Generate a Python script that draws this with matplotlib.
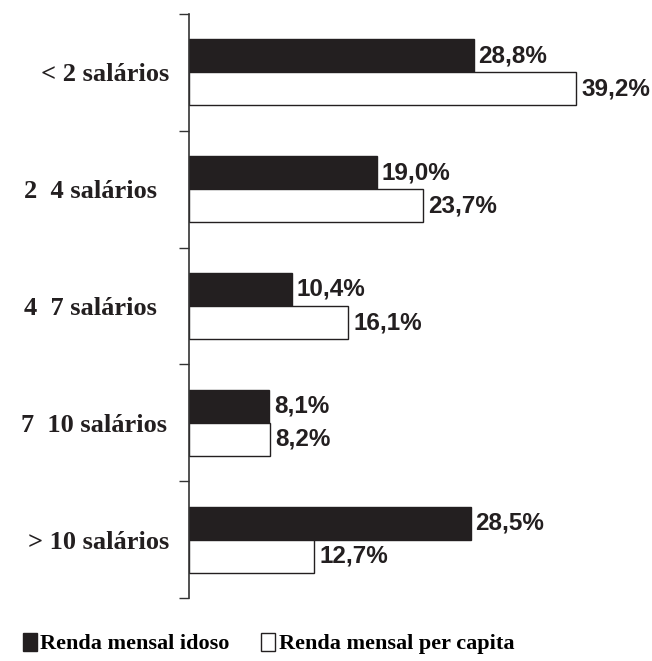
import numpy as np
import matplotlib.pyplot as plt
from matplotlib.patches import Patch
from matplotlib.transforms import ScaledTranslation

categories = ["< 2 salários", "2  4 salários", "4  7 salários", "7  10 salários", "> 10 salários"]
idoso = [28.8, 19.0, 10.4, 8.1, 28.5]
per_capita = [39.2, 23.7, 16.1, 8.2, 12.7]
legend_labels = ["Renda mensal idoso", "Renda mensal per capita"]

serif = "Liberation Serif"
sans = "Liberation Sans"
dark = "#231f20"

fig = plt.figure(figsize=(6.52, 6.61), dpi=100)
W, H = 652, 661
ax = fig.add_axes([189 / W, 63 / H, 444.6 / W, 584 / H])

y = np.arange(len(categories))
h = 0.283
ax.barh(y - h / 2, idoso, height=h, color=dark, edgecolor=dark, linewidth=1)
ax.barh(y + h / 2, per_capita, height=h, color="white", edgecolor=dark, linewidth=1)

for yi, v in zip(y, idoso):
    ax.text(v + 0.5, yi - h / 2, f"{v:.1f}%".replace(".", ","), va="center", ha="left",
            fontsize=17.5, fontweight="bold", family=sans, color=dark)
for yi, v in zip(y, per_capita):
    ax.text(v + 0.5, yi + h / 2, f"{v:.1f}%".replace(".", ","), va="center", ha="left",
            fontsize=17.5, fontweight="bold", family=sans, color=dark)

ax.set_xlim(0, 45)
ax.set_ylim(len(categories) - 0.5, -0.5)
for s in ["top", "right", "bottom"]:
    ax.spines[s].set_visible(False)
ax.spines["left"].set_linewidth(1.2)
ax.spines["left"].set_color("#333333")
ax.set_xticks([])

ax.set_yticks(y)
ax.set_yticklabels(categories, fontsize=19, fontweight="bold", family=serif, color=dark)
ax.tick_params(axis="y", which="major", length=0, pad=14)
ax.set_yticks(np.arange(len(categories) + 1) - 0.5, minor=True)
ax.tick_params(axis="y", which="minor", length=7, width=1, color="#333333")

offsets = [0, -13, -13, -3, 0]
for lab, dx in zip(ax.get_yticklabels(), offsets):
    lab.set_transform(lab.get_transform() + ScaledTranslation(dx / 100, 0, fig.dpi_scale_trans))

handles = [Patch(facecolor=dark, edgecolor=dark), Patch(facecolor="white", edgecolor=dark)]
fig.legend(handles, legend_labels, loc="lower left", bbox_to_anchor=(16 / W, 0), ncol=2,
           frameon=False, prop={"family": serif, "weight": "bold", "size": 16},
           handlelength=0.65, handleheight=0.85, handletextpad=0.15, columnspacing=1.4,
           borderaxespad=0, borderpad=0.3)

fig.savefig("out.png", dpi=100)
